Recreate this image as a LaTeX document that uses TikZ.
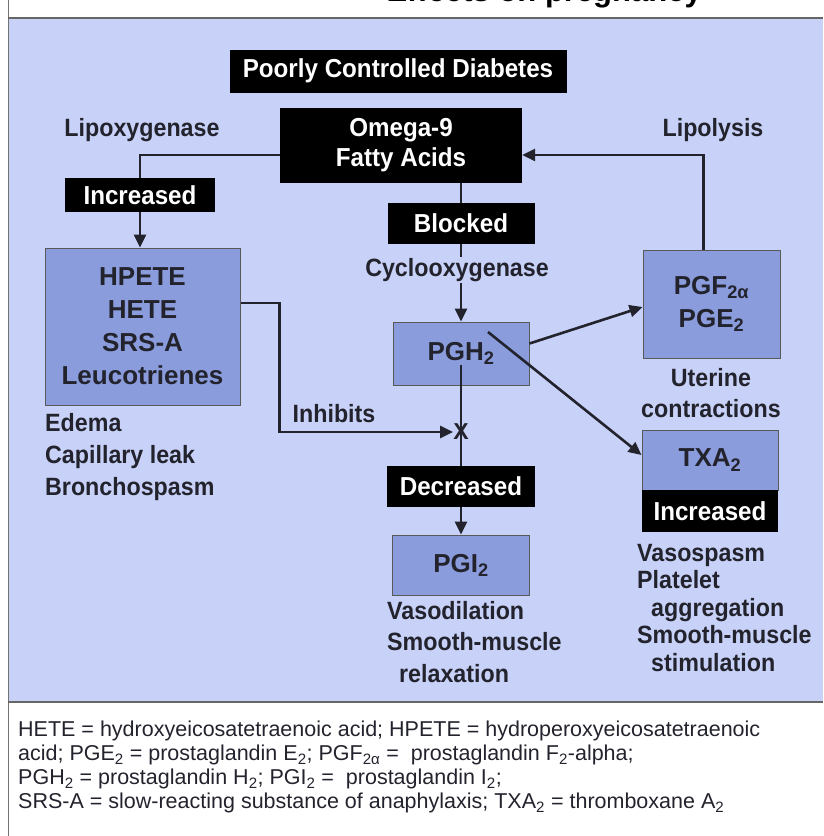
\documentclass[tikz,border=0pt]{standalone}
\usepackage{fontspec}
\setmainfont{Liberation Sans}
\newfontfamily\narrowfont[FakeStretch=0.93]{Liberation Sans}
\usetikzlibrary{arrows.meta}

\definecolor{panelblue}{RGB}{200,210,248}
\definecolor{boxblue}{RGB}{138,156,220}
\definecolor{inkgray}{RGB}{35,35,45}

\begin{document}
\begin{tikzpicture}[
  x=1pt,
  y=-1pt,
  edge/.style={draw=inkgray, line width=2.6pt},
  arrow/.style={edge, -{Triangle[length=13pt,width=12pt]}},
  blackbox/.style={
    fill=black,
    text=white,
    inner sep=0pt,
    align=center,
    font=\narrowfont\bfseries\fontsize{26}{30}\selectfont
  },
  bluebox/.style={
    fill=boxblue,
    draw=black!65,
    line width=1pt,
    inner sep=0pt,
    align=center,
    text=inkgray,
    font=\bfseries\fontsize{26}{33}\selectfont
  },
  label/.style={
    inner sep=1pt,
    text=inkgray,
    font=\narrowfont\bfseries\fontsize{25}{31}\selectfont
  }
]
\useasboundingbox (0,0) rectangle (823,836);

% panel, frame lines and clipped title
\fill[panelblue] (8,18) rectangle (823,702);
\draw[black!55, line width=1pt] (8,0) -- (8,836);
\draw[black!60, line width=2pt] (8,18) -- (823,18);
\draw[black!60, line width=2pt] (8,702) -- (823,702);
\begin{scope}
  \clip (9,0) rectangle (823,16);
  \node[anchor=base east, inner sep=0pt, font=\bfseries\fontsize{31}{31}\selectfont] (title) at (702,1.5) {Effects on pregnancy};
\end{scope}

% centre column
\node[blackbox, minimum width=337pt, minimum height=43pt] (diab) at (398,71) {Poorly Controlled Diabetes};
\node[blackbox, minimum width=242pt, minimum height=75pt] (omega) at (401,145.5) {Omega-9\\Fatty Acids};
\node[blackbox, minimum width=147pt, minimum height=41pt] (blocked) at (461,223.5) {Blocked};
\node[label] (cyclo) at (457,270) {Cyclooxygenase};
\node[bluebox, minimum width=136pt, minimum height=63pt] (pgh) at (461,353.5) {PGH\textsubscript{2}};
\node[inner sep=0pt, text=inkgray, font=\bfseries\fontsize{23}{23}\selectfont] (xmark) at (461,432) {X};
\node[blackbox, minimum width=148pt, minimum height=41pt] (decr) at (461,486.5) {Decreased};
\node[bluebox, minimum width=137pt, minimum height=60pt] (pgi) at (461,565) {PGI\textsubscript{2}};
\node[label, anchor=north west, align=left, font=\narrowfont\bfseries\fontsize{25}{31.5}\selectfont] (midfx) at (386,600) {Vasodilation\\Smooth-muscle\\\hspace{12pt}relaxation};

% left column
\node[label] (lipox) at (142,130) {Lipoxygenase};
\node[blackbox, minimum width=150pt, minimum height=34pt] (incl) at (140,195) {Increased};
\node[bluebox, minimum width=195pt, minimum height=157pt] (hpete) at (142.5,326.5) {HPETE\\HETE\\SRS-A\\Leucotrienes};
\node[label, anchor=north west, align=left, font=\narrowfont\bfseries\fontsize{25}{32}\selectfont] (leftfx) at (44,412) {Edema\\Capillary leak\\Bronchospasm};
\node[label] (inhib) at (334,414) {Inhibits};

% right column
\node[label] (lipol) at (713,130) {Lipolysis};
\node[bluebox, minimum width=137pt, minimum height=108pt] (pgf) at (711.5,304) {PGF\textsubscript{2α}\\PGE\textsubscript{2}};
\node[label, align=center] (uterine) at (711,393) {Uterine\\contractions};
\node[bluebox, minimum width=136pt, minimum height=60pt] (txa) at (710,460) {TXA\textsubscript{2}};
\node[blackbox, minimum width=136pt, minimum height=42pt] (incr) at (710,511) {Increased};
\node[label, anchor=north west, align=left, font=\narrowfont\bfseries\fontsize{25}{27.5}\selectfont] (rightfx) at (636,543) {Vasospasm\\Platelet\\\hspace{14pt}aggregation\\Smooth-muscle\\\hspace{14pt}stimulation};

% key
\node[anchor=north west, align=left, inner sep=0pt, text=inkgray, font=\fontsize{21.5}{24}\selectfont] (key) at (18,721) {HETE = hydroxyeicosatetraenoic acid; HPETE = hydroperoxyeicosatetraenoic\\acid; PGE\textsubscript{2} = prostaglandin E\textsubscript{2}; PGF\textsubscript{2α} =\ \ prostaglandin F\textsubscript{2}-alpha;\\PGH\textsubscript{2} = prostaglandin H\textsubscript{2}; PGI\textsubscript{2} =\ \ prostaglandin I\textsubscript{2};\\SRS-A = slow-reacting substance of anaphylaxis; TXA\textsubscript{2} = thromboxane A\textsubscript{2}};

% connectors
\draw[edge] ([yshift=-9.5pt]omega.west) -| (incl.north);
\draw[arrow] (incl.south) -- (incl.south |- hpete.north);
\draw[edge] (blocked.north |- omega.south) -- (blocked.north);
\draw[edge] (blocked.south) -- (blocked.south |- cyclo.north);
\draw[arrow] (blocked.south |- cyclo.south) -- (pgh.north);
\draw[edge] ([yshift=-11pt]pgh.center) -- (decr.north);
\draw[arrow] (decr.south) -- (pgi.north);
\draw[arrow] ([yshift=23.5pt]hpete.east) -- ++(39,0) |- (xmark.west);
\draw[arrow] ([xshift=-8pt]pgf.north) |- ([yshift=-9.5pt]omega.east);
\draw[arrow] ([yshift=10pt]pgh.east) -- ([yshift=-3pt]pgf.west);
\draw[arrow] ([xshift=27pt,yshift=21.5pt]pgh.center) -- ([yshift=5pt]txa.west);

\end{tikzpicture}
\end{document}
